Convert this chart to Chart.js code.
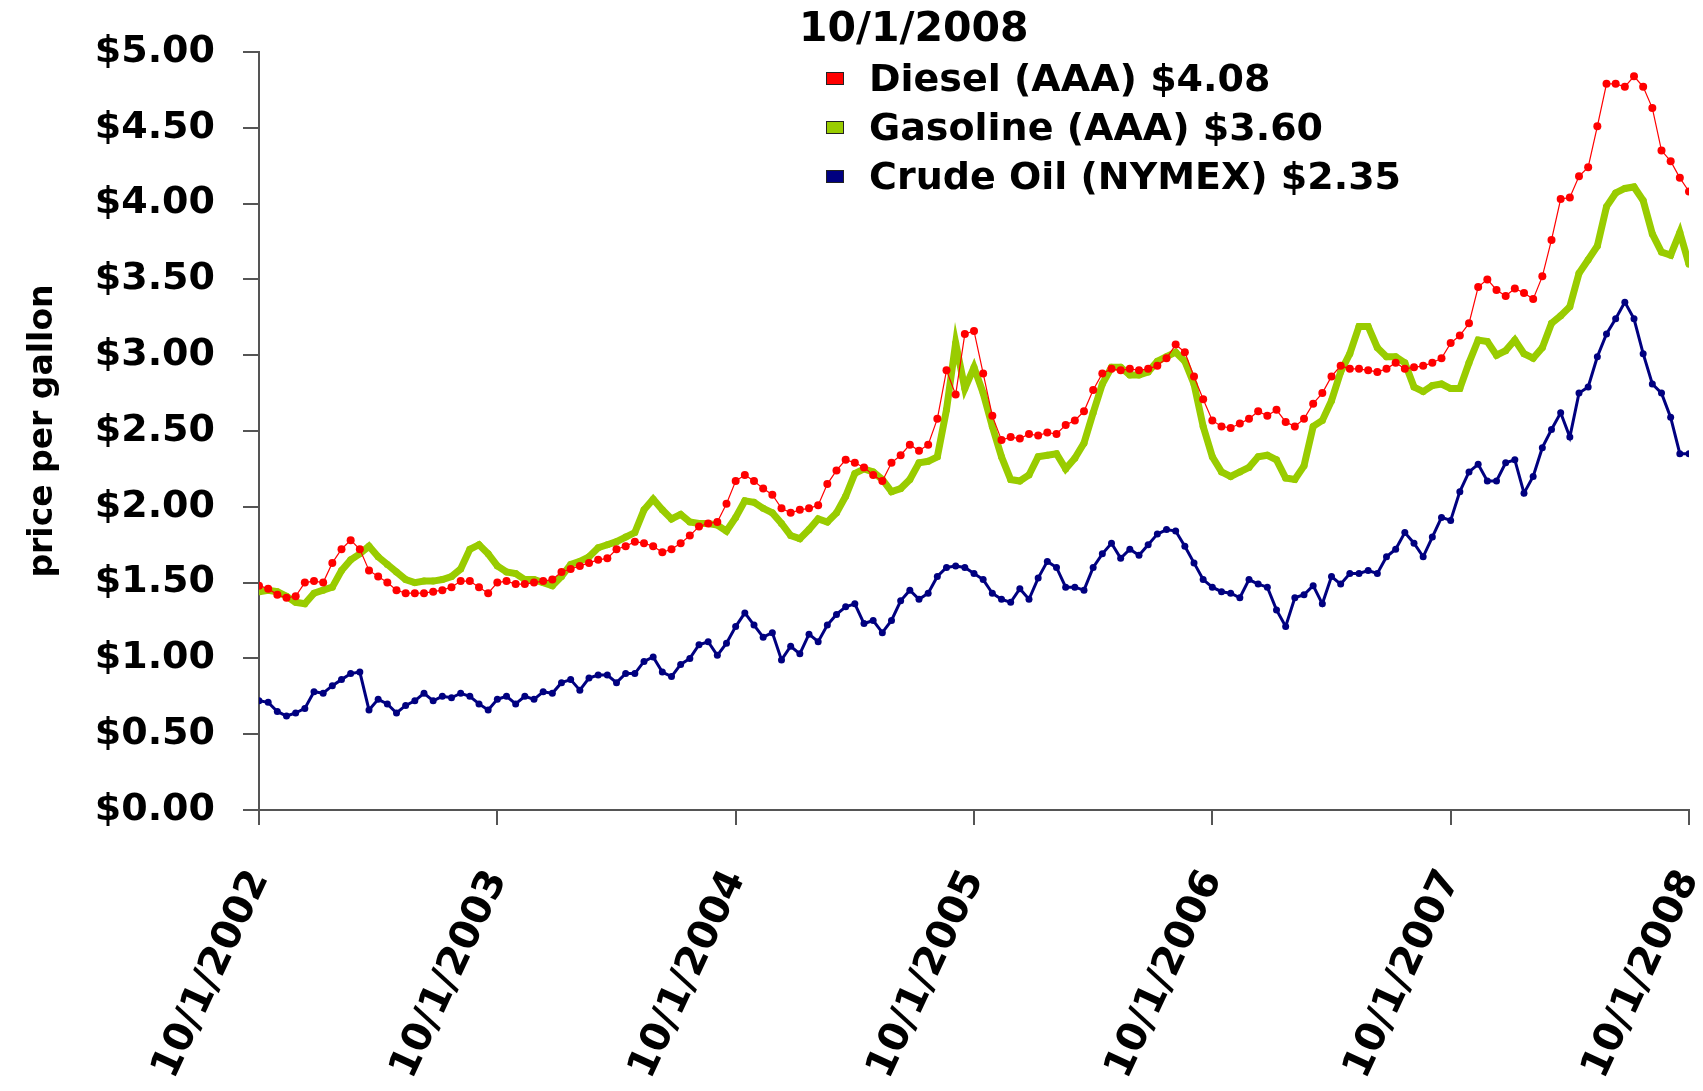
<!DOCTYPE html>
<html>
<head>
<meta charset="utf-8">
<title>Diesel, Gasoline and Crude Oil prices</title>
<script src="https://cdn.jsdelivr.net/npm/chart.js@4.4.1/dist/chart.umd.min.js"></script>
<style>
  html, body { margin: 0; padding: 0; background: #fff; }
  canvas { display: block; }
</style>
</head>
<body>
<canvas id="fuelChart" width="1703" height="1091"></canvas>
<script>
// one value every two weeks, 10/1/2002 .. 10/1/2008
const periodsPerYear = 26;
const yearLabels = ["10/1/2002", "10/1/2003", "10/1/2004", "10/1/2005", "10/1/2006", "10/1/2007", "10/1/2008"];
const seriesNames = ["Diesel (AAA)", "Gasoline (AAA)", "Crude Oil (NYMEX)"];
const legendDate = "10/1/2008";

const diesel = [
    1.48, 1.46, 1.42, 1.40, 1.41, 1.50, 1.51, 1.50, 1.63, 1.72,
    1.78, 1.72, 1.58, 1.54, 1.50, 1.45, 1.43, 1.43, 1.43, 1.44,
    1.45, 1.47, 1.51, 1.51, 1.47, 1.43, 1.50, 1.51, 1.49, 1.49,
    1.50, 1.51, 1.52, 1.57, 1.59, 1.61, 1.63, 1.65, 1.66, 1.72,
    1.74, 1.77, 1.76, 1.74, 1.70, 1.72, 1.76, 1.81, 1.87, 1.89,
    1.90, 2.02, 2.17, 2.21, 2.17, 2.12, 2.08, 1.99, 1.96, 1.98,
    1.99, 2.01, 2.15, 2.24, 2.31, 2.29, 2.26, 2.21, 2.17, 2.29,
    2.34, 2.41, 2.37, 2.41, 2.58, 2.90, 2.74, 3.14, 3.16, 2.88,
    2.60, 2.44, 2.46, 2.45, 2.48, 2.47, 2.49, 2.48, 2.54, 2.57,
    2.63, 2.77, 2.88, 2.91, 2.90, 2.91, 2.90, 2.91, 2.93, 2.98,
    3.07, 3.02, 2.86, 2.71, 2.57, 2.53, 2.52, 2.55, 2.58, 2.63,
    2.60, 2.64, 2.56, 2.53, 2.58, 2.68, 2.75, 2.86, 2.93, 2.91,
    2.91, 2.90, 2.89, 2.91, 2.95, 2.91, 2.92, 2.93, 2.95, 2.98,
    3.08, 3.13, 3.21, 3.45, 3.50, 3.43, 3.39, 3.44, 3.41, 3.37,
    3.52, 3.76, 4.03, 4.04, 4.18, 4.24, 4.51, 4.79, 4.79, 4.77,
    4.84, 4.77, 4.63, 4.35, 4.28, 4.17, 4.08
];

const gasoline = [
    1.44, 1.45, 1.44, 1.41, 1.37, 1.36, 1.43, 1.45, 1.47, 1.58,
    1.65, 1.69, 1.74, 1.67, 1.62, 1.57, 1.52, 1.50, 1.51, 1.51,
    1.52, 1.54, 1.59, 1.72, 1.75, 1.69, 1.61, 1.57, 1.56, 1.52,
    1.52, 1.50, 1.48, 1.54, 1.62, 1.64, 1.67, 1.73, 1.75, 1.77,
    1.80, 1.83, 1.98, 2.05, 1.98, 1.92, 1.95, 1.90, 1.89, 1.89,
    1.88, 1.84, 1.93, 2.04, 2.03, 1.99, 1.96, 1.89, 1.81, 1.79,
    1.85, 1.92, 1.90, 1.96, 2.07, 2.22, 2.25, 2.23, 2.18, 2.10,
    2.12, 2.18, 2.29, 2.30, 2.33, 2.64, 3.08, 2.78, 2.92, 2.75,
    2.53, 2.33, 2.18, 2.17, 2.21, 2.33, 2.34, 2.35, 2.25, 2.32,
    2.42, 2.62, 2.81, 2.92, 2.92, 2.87, 2.87, 2.89, 2.96, 2.99,
    3.02, 2.96, 2.81, 2.53, 2.33, 2.23, 2.20, 2.23, 2.26, 2.33,
    2.34, 2.31, 2.19, 2.18, 2.27, 2.53, 2.57, 2.70, 2.89, 3.01,
    3.19, 3.19, 3.05, 2.99, 2.99, 2.95, 2.79, 2.76, 2.80, 2.81,
    2.78, 2.78, 2.95, 3.10, 3.09, 3.00, 3.03, 3.10, 3.01, 2.98,
    3.05, 3.21, 3.26, 3.32, 3.54, 3.63, 3.72, 3.98, 4.07, 4.10,
    4.11, 4.02, 3.80, 3.68, 3.66, 3.81, 3.60
];

const crude = [
    0.72, 0.71, 0.65, 0.62, 0.64, 0.67, 0.78, 0.77, 0.82, 0.86,
    0.90, 0.91, 0.66, 0.73, 0.70, 0.64, 0.69, 0.72, 0.77, 0.72,
    0.75, 0.74, 0.77, 0.75, 0.70, 0.66, 0.73, 0.75, 0.70, 0.75,
    0.73, 0.78, 0.77, 0.84, 0.86, 0.79, 0.87, 0.89, 0.89, 0.84,
    0.90, 0.90, 0.98, 1.01, 0.91, 0.88, 0.96, 1.00, 1.09, 1.11,
    1.02, 1.10, 1.21, 1.30, 1.22, 1.14, 1.17, 0.99, 1.08, 1.03,
    1.16, 1.11, 1.22, 1.29, 1.34, 1.36, 1.23, 1.25, 1.17, 1.25,
    1.38, 1.45, 1.39, 1.43, 1.54, 1.60, 1.61, 1.60, 1.56, 1.52,
    1.43, 1.39, 1.37, 1.46, 1.39, 1.53, 1.64, 1.60, 1.47, 1.47,
    1.45, 1.60, 1.69, 1.76, 1.66, 1.72, 1.68, 1.75, 1.82, 1.85,
    1.84, 1.74, 1.63, 1.52, 1.47, 1.44, 1.43, 1.40, 1.52, 1.49,
    1.47, 1.32, 1.21, 1.40, 1.42, 1.48, 1.36, 1.54, 1.49, 1.56,
    1.56, 1.58, 1.56, 1.67, 1.72, 1.83, 1.76, 1.67, 1.80, 1.93,
    1.91, 2.10, 2.23, 2.28, 2.17, 2.17, 2.29, 2.31, 2.09, 2.20,
    2.39, 2.51, 2.62, 2.46, 2.75, 2.79, 2.99, 3.14, 3.24, 3.35,
    3.24, 3.01, 2.81, 2.75, 2.59, 2.35, 2.35
];

const FONT = "'DejaVu Sans', Verdana, sans-serif";
const toPoints = arr => arr.map((v, i) => ({ x: i, y: v }));
const lastValue = arr => "$" + arr[arr.length - 1].toFixed(2);

// legend drawn over the plot, top right, like the original
const fuelLegend = {
    id: "fuelLegend",
    afterDraw(chart) {
        const ctx = chart.ctx;
        ctx.save();
        ctx.textBaseline = "middle";
        ctx.fillStyle = "#000";
        ctx.font = "bold 41px " + FONT;
        ctx.fillText(legendDate, 799, 30);
        ctx.font = "bold 38px " + FONT;
        chart.data.datasets.forEach((ds, i) => {
            const y = 81 + i * 49;
            ctx.fillStyle = ds.legendColor;
            ctx.fillRect(826, y - 9, 18, 13);
            ctx.strokeStyle = "#222";
            ctx.lineWidth = 1;
            ctx.strokeRect(826.5, y - 8.5, 17, 12);
            ctx.fillStyle = "#000";
            ctx.fillText(ds.label, 869, y);
        });
        ctx.restore();
    }
};

new Chart(document.getElementById("fuelChart"), {
    type: "line",
    data: {
        datasets: [
            {
                label: seriesNames[0] + " " + lastValue(diesel),
                data: toPoints(diesel),
                legendColor: "#ff0000",
                borderColor: "#ff0000",
                backgroundColor: "#ff0000",
                borderWidth: 1.2,
                pointRadius: 4,
                pointBorderWidth: 0,
                tension: 0,
            },
            {
                label: seriesNames[1] + " " + lastValue(gasoline),
                data: toPoints(gasoline),
                legendColor: "#99cc00",
                borderColor: "#99cc00",
                backgroundColor: "#99cc00",
                borderWidth: 7,
                pointRadius: 3.5,
                pointBorderWidth: 0,
                tension: 0,
            },
            {
                label: seriesNames[2] + " " + lastValue(crude),
                data: toPoints(crude),
                legendColor: "#000080",
                borderColor: "#000080",
                backgroundColor: "#000080",
                borderWidth: 3,
                pointRadius: 3.5,
                pointBorderWidth: 0,
                tension: 0,
            },
        ],
    },
    options: {
        responsive: false,
        animation: false,
        layout: { padding: { top: 52, right: 14, left: 0, bottom: 0 } },
        plugins: {
            legend: { display: false },
            tooltip: { enabled: false },
        },
        scales: {
            x: {
                type: "linear",
                min: 0,
                max: periodsPerYear * (yearLabels.length - 1),
                border: { color: "#555", width: 2 },
                grid: { drawOnChartArea: false, color: "#555", lineWidth: 2, tickLength: 15 },
                ticks: {
                    stepSize: periodsPerYear,
                    autoSkip: false,
                    minRotation: 65,
                    maxRotation: 65,
                    padding: 38,
                    color: "#000",
                    font: { family: FONT, size: 40, weight: "bold" },
                    callback: v => yearLabels[v / periodsPerYear] || "",
                },
                afterFit: s => { s.height = 281; s.paddingLeft = 0; s.paddingRight = 0; },
            },
            y: {
                min: 0,
                max: 5,
                border: { color: "#555", width: 2 },
                grid: { drawOnChartArea: false, color: "#555", lineWidth: 2, tickLength: 16 },
                ticks: {
                    stepSize: 0.5,
                    padding: 28,
                    color: "#000",
                    font: { family: FONT, size: 38, weight: "bold" },
                    callback: v => "$" + v.toFixed(2),
                },
                title: {
                    display: true,
                    text: "price per gallon",
                    color: "#000",
                    font: { family: FONT, size: 33, weight: "bold" },
                    padding: { top: 24, bottom: 0 },
                },
                afterFit: s => { s.width = 259; },
            },
        },
    },
    plugins: [fuelLegend],
});
</script>
</body>
</html>
